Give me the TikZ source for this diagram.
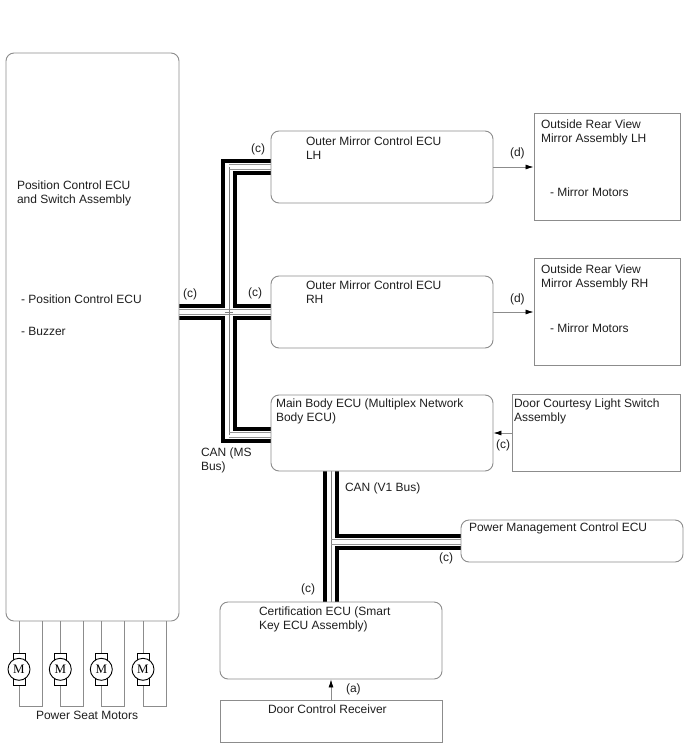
\documentclass[tikz,border=0pt]{standalone}
\usepackage{fontspec}
\usetikzlibrary{arrows.meta,calc}
\setmainfont{Liberation Sans}
\newfontfamily\motorfont{Liberation Serif}
\colorlet{edge}{black!45}
\tikzset{
  txt/.style={inner sep=0pt,outer sep=0pt,anchor=base west,align=left,
    font=\fontsize{12.05}{14}\selectfont,text=black!88},
  ecu/.style={draw=edge,line width=0.9bp,fill=white,rounded corners=8bp,inner sep=0pt,
    minimum width=#1,minimum height=\boxh},
  block/.style={draw=edge,line width=0.9bp,fill=white,inner sep=0pt,
    minimum width=#1,minimum height=\boxh},
  signal/.style={draw=edge,line width=0.8bp,-{Latex[black,length=8bp,width=5bp]}},
  railblack/.style={draw=black,line width=16bp,line join=miter},
  railclear/.style={draw=white,line width=8bp,line join=miter},
  railcore/.style={draw=black!50,line width=0.9bp},
  railside/.style={draw=black!42,line width=0.8bp},
  wire/.style={draw=edge,line width=0.9bp},
  rotor/.style={circle,draw=black,line width=0.9bp,fill=white,inner sep=0pt,
    minimum size=22bp,font=\motorfont\fontsize{13}{13}\selectfont},
  brush/.style={draw=black,line width=0.9bp,fill=white}
}
\newlength{\boxh}
\newcommand{\unitbox}[6]{% style, name, x1, y1, x2, y2
  \setlength{\boxh}{\dimexpr #6bp-#4bp\relax}
  \node[#1=\dimexpr #5bp-#3bp\relax] (#2) at ({(#3+#5)/2},{(#4+#6)/2}) {};}
\newcommand{\motor}[2]{% name, x
  \draw[brush] (#2-6,653) rectangle (#2+6,685);
  \node[rotor] (#1) at (#2,669.3) {M};
}
\begin{document}
\begin{tikzpicture}[x=1bp,y=-1bp]
\useasboundingbox (0,0) rectangle (688,755);
\fill[white] (0,0) rectangle (688,755);

% junction points of the two buses
\coordinate (msBus) at (229,312);
\coordinate (vBus) at (331,541.5);
\coordinate (seatPort) at (179,312);
\coordinate (rhPort) at (271,312);
\coordinate (lhPort) at (271,167);
\coordinate (bodyPort) at (271,434.7);
\coordinate (bodyLow) at (331,471);
\coordinate (certTop) at (331,602);
\coordinate (pmPort) at (461,541.5);

% MS bus and V1 bus: black rails and clear channel
\foreach \layer in {railblack,railclear}{
  \draw[\layer] (lhPort) -- (msBus |- lhPort) -- (msBus |- bodyPort) -- (bodyPort);
  \draw[\layer] (seatPort) -- (rhPort);
  \draw[\layer] (bodyLow) -- (certTop);
  \draw[\layer] (vBus) -- (pmPort);
}
% conductors inside the channel
\draw[railcore] (msBus |- lhPort) -- (msBus |- bodyPort);
\draw[railcore] (bodyLow) -- (certTop);
\foreach \off in {-2.4,2.4}{
  \draw[railside] ([yshift=\off bp]lhPort) -- ([yshift=\off bp]msBus |- lhPort);
  \draw[railside] ([yshift=\off bp]seatPort) -- ([yshift=\off bp]rhPort);
  \draw[railside] ([yshift=\off bp]bodyPort) -- ([yshift=\off bp]msBus |- bodyPort);
  \draw[railside] ([yshift=\off bp]vBus) -- ([yshift=\off bp]pmPort);
}
\fill[white] (225.5,309.9) rectangle (232.5,314.1);
\draw[railcore] ($(msBus)+(-4,0)$) -- ($(msBus)+(4,0)$);
\draw[railcore] ($(msBus)+(0,-4)$) -- ($(msBus)+(0,4)$);

% ECUs and assemblies
\unitbox{ecu}{seat}{6}{53}{179}{621}
\unitbox{ecu}{lh}{271}{131}{493}{203}
\unitbox{ecu}{rh}{271}{276}{493}{348}
\unitbox{ecu}{body}{271}{395}{493}{471}
\unitbox{ecu}{pmc}{461}{520}{683}{562}
\unitbox{ecu}{cert}{220}{602}{442}{679}
\unitbox{block}{recv}{220}{700}{442}{742}
\unitbox{block}{mirL}{534}{113}{680}{220}
\unitbox{block}{mirR}{534}{258}{680}{365}
\unitbox{block}{door}{512}{394}{680}{471}

% local signal lines
\draw[signal] (lh.east) -- (mirL.west |- lh.east);
\draw[signal] (rh.east) -- (mirR.west |- rh.east);
\draw[signal] (door.west |- body.east) -- (body.east);
\draw[signal] (recv.north) -- (cert.south);

% seat motors with their wiring loops
\foreach \n/\xa/\xb in {a/19/42,b/60.3/83,c/101.3/124.3,d/143/166}{
  \draw[wire] (\xa,621) -- (\xa,653);
  \draw[wire] (\xa,685) -- (\xa,706) -- (\xb,706) -- (\xb,621);
  \motor{m\n}{\xa}
}

% text in the boxes (y is the baseline of the last line)
\node[txt] (t1) at (17,203) {Position Control ECU\\and Switch Assembly};
\node[txt] (t2) at (21,303) {- Position Control ECU};
\node[txt] (t3) at (21,335) {- Buzzer};
\node[txt] (t4) at (306,159) {Outer Mirror Control ECU\\LH};
\node[txt] (t5) at (306,303) {Outer Mirror Control ECU\\RH};
\node[txt] (t6) at (276,421) {Main Body ECU (Multiplex Network\\Body ECU)};
\node[txt] (t7) at (541,142) {Outside Rear View\\Mirror Assembly LH};
\node[txt] (t8) at (550,196) {- Mirror Motors};
\node[txt] (t9) at (541,287) {Outside Rear View\\Mirror Assembly RH};
\node[txt] (t10) at (550,332) {- Mirror Motors};
\node[txt] (t11) at (514,421) {Door Courtesy Light Switch\\Assembly};
\node[txt] (t12) at (469,531) {Power Management Control ECU};
\node[txt] (t13) at (259,629) {Certification ECU (Smart\\Key ECU Assembly)};
\node[txt] (t14) at (268,713) {Door Control Receiver};
\node[txt] (t15) at (36,719) {Power Seat Motors};

% bus and line labels
\node[txt] (c1) at (251,152) {(c)};
\node[txt] (c2) at (183,297) {(c)};
\node[txt] (c3) at (248,296) {(c)};
\node[txt] (c4) at (496,448) {(c)};
\node[txt] (c5) at (439,561) {(c)};
\node[txt] (c6) at (301,592) {(c)};
\node[txt] (d1) at (510,156) {(d)};
\node[txt] (d2) at (510,302) {(d)};
\node[txt] (a1) at (346,692) {(a)};
\node[txt] (can1) at (201,470) {CAN (MS\\Bus)};
\node[txt] (can2) at (345,491) {CAN (V1 Bus)};
\end{tikzpicture}
\end{document}
